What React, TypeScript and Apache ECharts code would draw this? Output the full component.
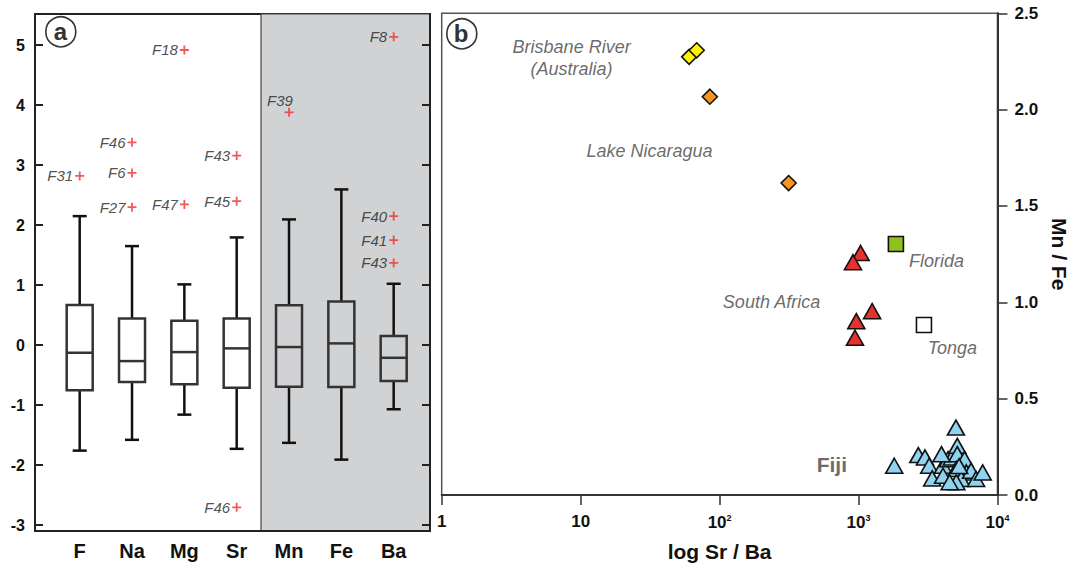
import React, { useEffect, useRef } from "react";
import * as echarts from "echarts";

// ---------- Panel a: box plots ----------
const categories = ["F", "Na", "Mg", "Sr", "Mn", "Fe", "Ba"];
const whiskerLow = [-1.76, -1.58, -1.16, -1.73, -1.63, -1.91, -1.07];
const quartile1 = [-0.755, -0.617, -0.655, -0.712, -0.695, -0.7, -0.6];
const medians = [-0.128, -0.267, -0.117, -0.055, -0.033, 0.028, -0.212];
const quartile3 = [0.667, 0.445, 0.405, 0.445, 0.662, 0.728, 0.15];
const whiskerHigh = [2.15, 1.65, 1.012, 1.795, 2.095, 2.595, 1.022];

const outlierCategory = ["F", "Na", "Na", "Na", "Mg", "Mg", "Sr", "Sr", "Sr", "Mn", "Ba", "Ba", "Ba", "Ba"];
const outlierValue = [2.82, 3.38, 2.87, 2.3, 4.92, 2.345, 3.16, 2.4, -2.705, 3.88, 5.14, 2.15, 1.75, 1.37];
const outlierLabel = ["F31", "F46", "F6", "F27", "F18", "F47", "F43", "F45", "F46", "F39", "F8", "F40", "F41", "F43"];

const leftTicks = [-3, -2, -1, 0, 1, 2, 3, 4, 5];

// ---------- Panel b: scatter ----------
const brisbane = [[60.4, 2.274], [68.4, 2.308]];
const nicaragua = [[85.1, 2.067], [314, 1.619]];
const florida = [[1858, 1.303]];
const southAfrica = [[1035, 1.256], [912, 1.208], [1253, 0.954], [964, 0.902], [943, 0.816]];
const tonga = [[2957, 0.882]];
const fiji = [
  [1807, 0.152], [5023, 0.35], [2692, 0.207], [3006, 0.195], [3227, 0.152], [3390, 0.086],
  [4058, 0.152], [4406, 0.186], [4700, 0.195], [5137, 0.255], [5137, 0.212], [5055, 0.135],
  [5794, 0.186], [5960, 0.117], [5486, 0.083], [5055, 0.066], [6463, 0.126], [7014, 0.083],
  [7822, 0.117], [4058, 0.1], [4530, 0.066], [3954, 0.212], [5300, 0.15],
];
const regionNames = ["Brisbane River\n(Australia)", "Lake Nicaragua", "Florida", "South Africa", "Tonga"];
const regionPos = [[8.61, 2.27], [31.3, 1.787], [3641, 1.216], [236.6, 1.0], [4733, 0.7645]];
const fijiName = "Fiji";
const fijiPos = [643, 0.16];

const FONT = "Liberation Sans, Arial, sans-serif";
const PLUS = "path://M4,0h2v4h4v2h-4v4h-2v-4h-4v-2h4z";

export default function App() {
  const ref = useRef<HTMLDivElement>(null);
  useEffect(() => {
    document.body.style.margin = "0";
    const chart = echarts.init(ref.current!, null, { renderer: "svg" });
    const boxData = categories.map((c, i) => [i + 1, whiskerLow[i], quartile1[i], medians[i], quartile3[i], whiskerHigh[i]]);
    const outData = outlierValue.map((v, i) => ({
      value: [categories.indexOf(outlierCategory[i]) + 1, v],
      name: outlierLabel[i],
      label: outlierLabel[i] === "F39" ? { position: "top", distance: 0, offset: [-9, 0] } : undefined,
    }));
    const markerStyle = (color: string) => ({ color, borderColor: "#111", borderWidth: 1.6, opacity: 1 });
    const axisLabelLeft = { fontFamily: FONT, fontWeight: "bold", fontSize: 16, color: "#111" };

    chart.setOption({
      animation: false,
      backgroundColor: "#fff",
      grid: [
        { left: 35, top: 14, width: 395, height: 517, show: true, borderColor: "#222", borderWidth: 2, backgroundColor: "transparent" },
        { left: 441.7, top: 13.3, width: 561.6, height: 482.7, show: true, borderColor: "#555", borderWidth: 1.5, backgroundColor: "transparent" },
      ],
      xAxis: [
        {
          gridIndex: 0, type: "value", min: 0.146, max: 7.694,
          axisLine: { show: true, onZero: false, lineStyle: { color: "#222", width: 2 } },
          axisTick: { show: false }, splitLine: { show: false },
          axisLabel: {
            customValues: categories.map((c, i) => i + 1),
            formatter: (v: number) => categories[Math.round(v) - 1] ?? "",
            fontFamily: FONT, fontWeight: "bold", fontSize: 20, color: "#111", margin: 10,
          },
        },
        {
          gridIndex: 1, type: "log", logBase: 10, min: 1, max: 10000,
          axisLine: { show: true, onZero: false, lineStyle: { color: "#333", width: 2 } },
          axisTick: { show: true, inside: false, length: 10, lineStyle: { color: "#333", width: 1.5 } },
          minorTick: { show: false }, splitLine: { show: false },
          axisLabel: {
            fontFamily: FONT, fontWeight: "bold", fontSize: 17, color: "#111", margin: 18,
            formatter: (v: number) => {
              const e = Math.round(Math.log10(v));
              if (e === 0) return "1";
              if (e === 1) return "10";
              return "{b|10}{s|" + e + "}";
            },
            rich: {
              b: { fontFamily: FONT, fontWeight: "bold", fontSize: 17, color: "#111", lineHeight: 18 },
              s: { fontFamily: FONT, fontWeight: "bold", fontSize: 9, color: "#111", verticalAlign: "top", lineHeight: 18 },
            },
          },
          name: "log Sr / Ba", nameLocation: "middle", nameGap: 46,
          nameTextStyle: { fontFamily: FONT, fontWeight: "bold", fontSize: 21, color: "#111" },
        },
      ],
      yAxis: [
        {
          gridIndex: 0, type: "value", min: -3.1, max: 5.52, position: "left",
          axisLine: { show: true, onZero: false, lineStyle: { color: "#222", width: 2 } },
          axisTick: { show: true, inside: true, length: 8, customValues: leftTicks, lineStyle: { color: "#222", width: 2 } },
          splitLine: { show: false },
          axisLabel: { ...axisLabelLeft, customValues: leftTicks, margin: 10 },
        },
        {
          gridIndex: 0, type: "value", min: -3.1, max: 5.52, position: "right",
          axisLine: { show: true, onZero: false, lineStyle: { color: "#222", width: 2 } },
          axisTick: { show: true, inside: true, length: 8, customValues: leftTicks, lineStyle: { color: "#222", width: 2 } },
          splitLine: { show: false }, axisLabel: { show: false },
        },
        {
          gridIndex: 1, type: "value", min: 0, max: 2.5, interval: 0.5, position: "right",
          axisLine: { show: true, onZero: false, lineStyle: { color: "#333", width: 2 } },
          axisTick: { show: true, inside: false, length: 10, lineStyle: { color: "#333", width: 1.5 } },
          splitLine: { show: false },
          axisLabel: { fontFamily: FONT, fontWeight: "bold", fontSize: 17, color: "#111", margin: 17, formatter: (v: number) => v.toFixed(1) },
          name: "Mn / Fe", nameLocation: "middle", nameGap: 50, nameRotate: -90,
          nameTextStyle: { fontFamily: FONT, fontWeight: "bold", fontSize: 21, color: "#111" },
        },
      ],
      series: [
        {
          type: "custom", xAxisIndex: 0, yAxisIndex: 0, data: boxData,
          encode: { x: 0, y: [1, 2, 3, 4, 5] }, z: 3,
          markArea: {
            silent: true,
            itemStyle: { color: "#d1d2d4", borderColor: "#444", borderWidth: 1.2 },
            data: [[{ xAxis: 4.465 }, { xAxis: 7.694 }]],
            z: 0,
          },
          renderItem: (params: any, api: any) => {
            const x = api.value(0);
            const lo = api.coord([x, api.value(1)]);
            const q1 = api.coord([x, api.value(2)]);
            const md = api.coord([x, api.value(3)]);
            const q3 = api.coord([x, api.value(4)]);
            const hi = api.coord([x, api.value(5)]);
            const cx = lo[0];
            const bw = 26, cw = 14;
            const wStyle = { stroke: "#111", lineWidth: 2.5 };
            const bStyle = { stroke: "#333", lineWidth: 2.5, fill: "none" };
            return {
              type: "group",
              children: [
                { type: "line", shape: { x1: cx, y1: hi[1], x2: cx, y2: q3[1] }, style: wStyle },
                { type: "line", shape: { x1: cx, y1: q1[1], x2: cx, y2: lo[1] }, style: wStyle },
                { type: "line", shape: { x1: cx - cw / 2, y1: hi[1], x2: cx + cw / 2, y2: hi[1] }, style: wStyle },
                { type: "line", shape: { x1: cx - cw / 2, y1: lo[1], x2: cx + cw / 2, y2: lo[1] }, style: wStyle },
                { type: "rect", shape: { x: cx - bw / 2, y: q3[1], width: bw, height: q1[1] - q3[1] }, style: bStyle },
                { type: "line", shape: { x1: cx - bw / 2, y1: md[1], x2: cx + bw / 2, y2: md[1] }, style: bStyle },
              ],
            };
          },
        },
        {
          type: "scatter", xAxisIndex: 0, yAxisIndex: 0, data: outData, symbol: PLUS, symbolSize: 9, z: 4,
          itemStyle: { color: "#ee3130" },
          label: {
            show: true, position: "left", distance: 2, formatter: "{b}",
            fontFamily: FONT, fontStyle: "italic", fontSize: 15, color: "#222",
          },
        },
        { type: "scatter", xAxisIndex: 1, yAxisIndex: 2, data: brisbane, symbol: "diamond", symbolSize: 15, itemStyle: markerStyle("#fff200"), z: 5 },
        { type: "scatter", xAxisIndex: 1, yAxisIndex: 2, data: nicaragua, symbol: "diamond", symbolSize: 15, itemStyle: markerStyle("#f7941d"), z: 5 },
        { type: "scatter", xAxisIndex: 1, yAxisIndex: 2, data: florida, symbol: "rect", symbolSize: 15, itemStyle: markerStyle("#8dc21f"), z: 5 },
        { type: "scatter", xAxisIndex: 1, yAxisIndex: 2, data: southAfrica, symbol: "triangle", symbolSize: [17, 15], itemStyle: markerStyle("#e8312f"), z: 5 },
        { type: "scatter", xAxisIndex: 1, yAxisIndex: 2, data: tonga, symbol: "rect", symbolSize: 15, itemStyle: markerStyle("#ffffff"), z: 5 },
        { type: "scatter", xAxisIndex: 1, yAxisIndex: 2, data: fiji, symbol: "triangle", symbolSize: [17, 15], itemStyle: markerStyle("#8fd3f0"), z: 5 },
        {
          type: "scatter", xAxisIndex: 1, yAxisIndex: 2, symbolSize: 0, silent: true, z: 6,
          data: regionNames.map((n, i) => ({ value: regionPos[i], name: n })),
          label: {
            show: true, position: "inside", formatter: "{b}", align: "center",
            fontFamily: FONT, fontStyle: "italic", fontSize: 18, lineHeight: 22, color: "#444",
          },
        },
        {
          type: "scatter", xAxisIndex: 1, yAxisIndex: 2, symbolSize: 0, silent: true, z: 6,
          data: [{ value: fijiPos, name: fijiName }],
          label: { show: true, position: "inside", formatter: "{b}", fontFamily: FONT, fontWeight: "bold", fontSize: 21, color: "#444" },
        },
      ],
      graphic: [
        { type: "circle", left: 45, top: 16, shape: { r: 15 }, style: { fill: "#fff", stroke: "#333", lineWidth: 1.6 }, z: 10 },
        { type: "text", x: 60.5, y: 31, style: { text: "a", fontFamily: FONT, fontWeight: "bold", fontSize: 24, fill: "#333", align: "center", verticalAlign: "middle" }, z: 11 },
        { type: "circle", left: 446, top: 18, shape: { r: 15 }, style: { fill: "#fff", stroke: "#333", lineWidth: 1.6 }, z: 10 },
        { type: "text", x: 461, y: 33, style: { text: "b", fontFamily: FONT, fontWeight: "bold", fontSize: 24, fill: "#333", align: "center", verticalAlign: "middle" }, z: 11 },
      ],
    });
    return () => chart.dispose();
  }, []);
  return <div ref={ref} style={{ width: 1078, height: 567 }} />;
}
